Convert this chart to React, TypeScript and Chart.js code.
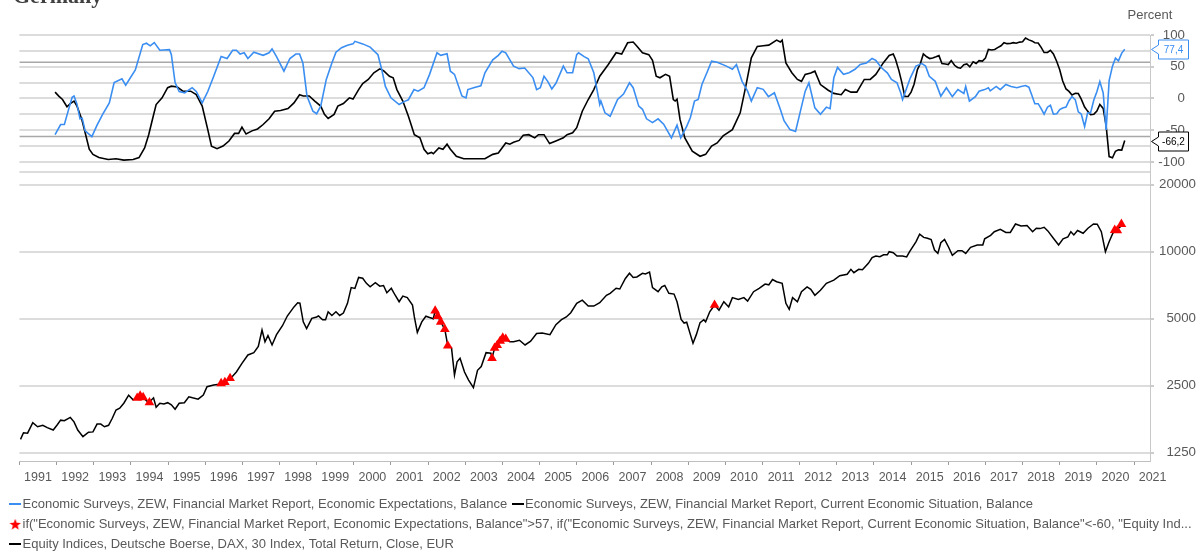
import React, { useEffect, useRef } from 'react';
import { Chart, registerables } from 'chart.js';

Chart.register(...registerables);
Chart.defaults.font.family = '"Liberation Sans", Arial, sans-serif';

// ---- Data (decimal year, value) ----
const zewExpectations: [number, number][] = [
  [1991.96,-57],[1992.11,-41],[1992.21,-41],[1992.34,-14],[1992.42,2],[1992.47,4],[1992.55,-9],[1992.63,-32],[1992.69,-31],[1992.77,-51],[1992.95,-60],
  [1993.09,-42],[1993.24,-25],[1993.42,-7],[1993.55,25],[1993.76,31],[1993.86,21],[1994.12,45],[1994.32,85],[1994.42,87],[1994.52,83],[1994.63,88],
  [1994.78,76],[1995.04,77],[1995.09,69],[1995.19,25],[1995.30,11],[1995.45,9],[1995.65,17],[1995.76,11],[1995.92,-7],[1996.07,11],[1996.23,35],
  [1996.43,66],[1996.59,63],[1996.74,76],[1996.84,76],[1996.94,70],[1997.05,72],[1997.15,63],[1997.31,73],[1997.56,68],[1997.72,72],[1997.80,78],
  [1997.92,66],[1998.12,43],[1998.28,63],[1998.44,70],[1998.54,70],[1998.63,56],[1998.74,4],[1998.90,-20],[1999.00,-24],[1999.11,-12],[1999.26,30],
  [1999.41,56],[1999.52,73],[1999.67,80],[1999.83,84],[1999.98,86],[2000.03,90],[2000.24,86],[2000.44,81],[2000.65,69],[2000.75,46],[2000.85,19],
  [2001.00,1],[2001.22,-9.5],[2001.37,-4.5],[2001.47,-2],[2001.62,14],[2001.73,11.5],[2001.89,17],[2002.04,38],[2002.24,72],[2002.34,68],[2002.51,70.5],
  [2002.60,43],[2002.71,38],[2002.91,4],[2003.02,1],[2003.07,14],[2003.27,17.6],[2003.42,20],[2003.53,40.5],[2003.74,61],[2003.89,68],[2003.99,74.5],
  [2004.09,72],[2004.30,51],[2004.45,47],[2004.60,48],[2004.82,33],[2004.92,14],[2005.02,17],[2005.12,35],[2005.22,27],[2005.33,15],[2005.44,24],
  [2005.64,51],[2005.74,40.5],[2005.89,40.5],[2006.00,69],[2006.05,72],[2006.20,66],[2006.31,62.5],[2006.46,40.5],[2006.62,-9.5],[2006.65,-4],
  [2006.76,-22.6],[2006.90,-28],[2007.10,-1.6],[2007.26,7],[2007.42,24.7],[2007.52,17],[2007.67,-12],[2007.77,-17],[2007.88,-32],[2008.04,-38],
  [2008.19,-32],[2008.34,-40.5],[2008.55,-62],[2008.70,-42],[2008.80,-62],[2008.96,-44],[2009.06,-30],[2009.17,-4],[2009.27,-1.6],[2009.37,22],
  [2009.52,43],[2009.63,58.8],[2009.78,57],[2010.03,51],[2010.19,46],[2010.30,53.5],[2010.45,27],[2010.60,11.5],[2010.70,-4],[2010.86,17],
  [2011.02,14.4],[2011.16,3],[2011.32,9],[2011.48,-17],[2011.58,-35],[2011.74,-49],[2011.89,-52],[2012.00,-25],[2012.15,11.5],[2012.25,24.7],
  [2012.41,-14.7],[2012.56,-25],[2012.72,-13.6],[2012.82,-16],[2012.92,32.6],[2013.02,49],[2013.18,38],[2013.33,40.5],[2013.49,46],[2013.63,53.5],
  [2013.80,56],[2013.95,63],[2014.05,60],[2014.21,48],[2014.36,40.5],[2014.47,30],[2014.62,24.7],[2014.72,9],[2014.77,-1.6],[2014.98,32.6],
  [2015.13,51],[2015.29,55],[2015.39,51],[2015.49,35],[2015.65,27],[2015.80,3.7],[2015.95,17],[2016.11,3],[2016.26,14],[2016.42,8],[2016.47,19],
  [2016.57,-4],[2016.73,3],[2016.83,11.5],[2016.98,14],[2017.08,17],[2017.13,12],[2017.29,19],[2017.40,14],[2017.55,22],[2017.69,19],[2017.85,17],
  [2017.96,19],[2018.08,20.4],[2018.17,17.8],[2018.25,5.1],[2018.33,-8.2],[2018.42,-8.2],[2018.50,-16.1],[2018.58,-24.7],[2018.67,-13.7],
  [2018.75,-10.6],[2018.83,-24.7],[2018.92,-24.1],[2019.00,-17.5],[2019.08,-15.0],[2019.17,-13.4],[2019.25,-3.6],[2019.33,3.1],[2019.42,-2.1],
  [2019.50,-21.1],[2019.58,-24.5],[2019.67,-44.1],[2019.75,-22.5],[2019.83,-22.8],[2019.92,-2.1],[2020.00,10.7],[2020.08,26.7],[2020.17,8.7],
  [2020.25,-49.5],[2020.33,28.2],[2020.42,51.0],[2020.50,63.4],[2020.58,59.3],[2020.67,71.5],[2020.75,77.4],
];

const zewCurrent: [number, number][] = [
  [1991.96,10],[1992.06,3.7],[1992.16,-1.6],[1992.28,-13],[1992.37,-8],[1992.47,-4],[1992.55,-12],[1992.68,-33],[1992.77,-54],[1992.88,-80],
  [1992.98,-88],[1993.14,-93],[1993.39,-96],[1993.60,-95],[1993.81,-97],[1994.06,-96],[1994.22,-93],[1994.37,-78],[1994.48,-57],[1994.58,-33],
  [1994.68,-9.5],[1994.84,1],[1994.99,17],[1995.09,19.4],[1995.25,18],[1995.40,11.5],[1995.61,11.5],[1995.76,6],[1995.92,-12],[1996.07,-49],
  [1996.17,-75],[1996.32,-79],[1996.48,-75],[1996.64,-67],[1996.79,-55],[1996.90,-55],[1996.99,-45],[1997.10,-56],[1997.26,-51],[1997.41,-48],
  [1997.56,-41],[1997.72,-32],[1997.87,-20],[1998.03,-19],[1998.23,-16],[1998.39,-7],[1998.54,6],[1998.64,4],[1998.80,4],[1998.95,-4],
  [1999.11,-12],[1999.21,-25],[1999.31,-31.5],[1999.47,-25],[1999.57,-12],[1999.72,-8],[1999.88,1],[1999.98,-1],[2000.13,14],[2000.24,23.6],
  [2000.39,30],[2000.54,40.5],[2000.70,46.7],[2000.80,44],[2000.96,35],[2001.06,32.6],[2001.16,14],[2001.32,-4],[2001.47,-28],[2001.63,-57],
  [2001.78,-62],[2001.89,-80],[2001.99,-87],[2002.09,-85],[2002.14,-87],[2002.29,-78],[2002.40,-80],[2002.51,-72],[2002.60,-80],[2002.76,-91],
  [2002.96,-95],[2003.27,-95],[2003.53,-95],[2003.74,-88],[2003.89,-86],[2004.09,-70],[2004.20,-72],[2004.30,-69],[2004.45,-66],[2004.56,-58],
  [2004.71,-57],[2004.87,-62],[2004.97,-57],[2005.12,-57],[2005.27,-71],[2005.44,-67],[2005.64,-62],[2005.74,-57],[2005.89,-54],[2006.00,-46],
  [2006.15,-20],[2006.31,-1.6],[2006.46,14],[2006.62,35],[2006.85,53.5],[2007.06,72],[2007.21,70],[2007.37,87.7],[2007.52,89],[2007.61,83],
  [2007.77,72],[2007.94,69],[2008.04,60],[2008.14,35],[2008.24,32.6],[2008.39,38],[2008.50,35],[2008.60,-1.6],[2008.65,-4],[2008.70,-1],
  [2008.78,-33],[2008.91,-62],[2009.11,-83],[2009.32,-91],[2009.47,-88],[2009.63,-75],[2009.78,-70],[2009.94,-59],[2010.19,-49],[2010.40,-22.6],
  [2010.55,19],[2010.70,64],[2010.86,82],[2011.02,83],[2011.17,84],[2011.38,92],[2011.48,89],[2011.53,92],[2011.63,56],[2011.79,40.5],
  [2011.94,30],[2012.05,27],[2012.15,38],[2012.30,40],[2012.41,43],[2012.56,22],[2012.77,13],[2012.92,8],[2013.12,6],[2013.23,14],[2013.38,10],
  [2013.54,10],[2013.74,30],[2013.90,30],[2014.05,38],[2014.25,56],[2014.41,67.7],[2014.52,70],[2014.58,61.8],[2014.67,44.3],[2014.75,25.4],
  [2014.83,3.2],[2014.92,3.3],[2015.00,10.0],[2015.08,22.4],[2015.17,45.5],[2015.25,55.1],[2015.33,70.2],[2015.42,65.7],[2015.50,62.9],
  [2015.58,63.9],[2015.67,65.7],[2015.75,67.5],[2015.83,55.2],[2015.92,54.4],[2016.00,53.5],[2016.08,59.7],[2016.17,52.3],[2016.25,48.9],
  [2016.33,47.7],[2016.42,53.1],[2016.50,54.5],[2016.58,49.8],[2016.67,57.6],[2016.75,55.1],[2016.83,59.5],[2016.92,58.8],[2017.00,63.5],
  [2017.08,77.3],[2017.17,76.4],[2017.25,77.3],[2017.33,80.1],[2017.42,83.0],[2017.50,88.0],[2017.58,86.4],[2017.67,86.7],[2017.75,87.9],
  [2017.83,87.0],[2017.92,88.8],[2018.00,89.3],[2018.08,95.2],[2018.17,92.3],[2018.25,90.7],[2018.33,87.9],[2018.42,87.4],[2018.50,80.6],
  [2018.58,72.4],[2018.67,72.6],[2018.75,76.0],[2018.83,70.1],[2018.92,58.2],[2019.00,45.3],[2019.08,27.6],[2019.17,15.0],[2019.25,11.1],
  [2019.33,5.5],[2019.42,8.2],[2019.50,7.8],[2019.58,-1.1],[2019.67,-13.5],[2019.75,-19.9],[2019.83,-25.3],[2019.92,-24.7],[2020.00,-19.9],
  [2020.08,-9.5],[2020.17,-15.7],[2020.25,-43.1],[2020.33,-91.5],[2020.42,-93.5],[2020.50,-83.1],[2020.58,-80.9],[2020.67,-81.3],[2020.75,-66.2],
];

const daxIndex: [number, number][] = [
  [1991.03,1435],[1991.11,1537],[1991.22,1530],[1991.36,1705],[1991.49,1635],[1991.63,1660],[1991.75,1620],[1991.91,1580],[1992.01,1660],
  [1992.11,1750],[1992.21,1740],[1992.37,1800],[1992.47,1720],[1992.57,1580],[1992.71,1475],[1992.86,1545],[1992.98,1550],[1993.09,1680],
  [1993.19,1680],[1993.29,1635],[1993.40,1660],[1993.50,1785],[1993.60,1945],[1993.70,1980],[1993.81,2085],[1993.94,2265],[1994.06,2160],
  [1994.20,2230],[1994.32,2215],[1994.48,2097],[1994.61,2205],[1994.68,2000],[1994.78,2085],[1994.89,2070],[1994.99,2097],[1995.09,2050],
  [1995.19,1960],[1995.30,2085],[1995.44,2097],[1995.56,2230],[1995.66,2205],[1995.81,2175],[1995.95,2270],[1996.05,2475],[1996.23,2520],
  [1996.38,2540],[1996.54,2600],[1996.69,2700],[1996.84,2880],[1996.99,3150],[1997.15,3435],[1997.31,3518],[1997.43,3750],[1997.53,4450],
  [1997.61,3940],[1997.69,4200],[1997.80,3810],[1997.92,4240],[1998.08,4650],[1998.21,5140],[1998.39,5650],[1998.49,5900],[1998.55,5870],
  [1998.64,4840],[1998.73,4510],[1998.87,5020],[1999.00,5090],[1999.05,5150],[1999.16,4950],[1999.24,4950],[1999.31,5370],[1999.41,5170],
  [1999.52,5370],[1999.62,5170],[1999.72,5300],[1999.83,5860],[1999.93,6900],[2000.03,6840],[2000.13,7660],[2000.24,7600],[2000.34,7210],
  [2000.44,6950],[2000.58,7256],[2000.70,7000],[2000.80,7050],[2000.89,6544],[2001.01,6850],[2001.11,6390],[2001.22,5960],[2001.32,6320],
  [2001.44,6220],[2001.58,5760],[2001.63,5090],[2001.71,4340],[2001.83,4840],[2001.94,5130],[2002.04,5060],[2002.14,5000],[2002.19,5430],
  [2002.26,5130],[2002.34,4840],[2002.45,4480],[2002.53,3780],[2002.63,3700],[2002.71,2790],[2002.78,3200],[2002.86,3320],[2002.98,2880],
  [2003.09,2650],[2003.22,2450],[2003.33,2930],[2003.43,3050],[2003.56,3518],[2003.69,3500],[2003.72,3320],[2003.79,3690],[2003.86,3800],
  [2003.94,3970],[2004.01,4100],[2004.09,4050],[2004.20,3940],[2004.30,3940],[2004.46,4000],[2004.61,3810],[2004.76,3960],[2004.92,4290],
  [2005.07,4310],[2005.28,4240],[2005.44,4700],[2005.59,4950],[2005.72,5090],[2005.84,5320],[2006.00,5860],[2006.15,6060],[2006.31,5700],
  [2006.46,5700],[2006.62,5900],[2006.80,6370],[2006.90,6500],[2007.06,6850],[2007.16,6800],[2007.31,7580],[2007.42,8000],[2007.52,7660],
  [2007.62,7700],[2007.77,8000],[2007.85,7950],[2007.96,8100],[2008.04,6900],[2008.19,6610],[2008.29,6950],[2008.37,7050],[2008.48,6500],
  [2008.62,6450],[2008.70,5960],[2008.81,4960],[2008.89,4780],[2008.96,4820],[2009.06,4240],[2009.13,3880],[2009.22,4240],[2009.32,4800],
  [2009.42,4950],[2009.47,4840],[2009.58,5370],[2009.71,5760],[2009.83,5460],[2009.96,5960],[2010.09,5650],[2010.19,6220],[2010.35,6100],
  [2010.50,6220],[2010.60,6000],[2010.76,6610],[2010.91,6850],[2011.07,7150],[2011.17,7100],[2011.27,7500],[2011.38,7330],[2011.53,7210],
  [2011.63,5860],[2011.72,5510],[2011.81,6220],[2011.94,5960],[2012.05,6610],[2012.20,6950],[2012.30,6770],[2012.41,6370],[2012.56,6710],
  [2012.72,7210],[2012.92,7450],[2013.08,7800],[2013.28,7920],[2013.38,8330],[2013.46,8050],[2013.59,8330],[2013.69,8300],[2013.85,8870],
  [2013.95,9400],[2014.05,9560],[2014.16,9500],[2014.26,9680],[2014.36,9680],[2014.41,10000],[2014.52,9900],[2014.62,9560],[2014.77,9560],
  [2014.88,9480],[2014.96,10000],[2015.13,11080],[2015.23,12000],[2015.34,11600],[2015.44,11500],[2015.54,11350],[2015.63,10170],
  [2015.72,9830],[2015.80,10975],[2015.90,11350],[2016.01,10470],[2016.11,9630],[2016.26,10100],[2016.37,10100],[2016.47,9830],
  [2016.60,10470],[2016.78,10720],[2016.93,10720],[2016.98,11430],[2017.14,11850],[2017.24,12300],[2017.40,12600],[2017.55,12200],
  [2017.67,12200],[2017.81,13320],[2017.96,13050],[2018.12,13100],[2018.27,12300],[2018.37,12750],[2018.47,12700],[2018.58,12870],
  [2018.68,12400],[2018.84,11430],[2018.97,10720],[2019.09,11430],[2019.22,11650],[2019.30,12300],[2019.38,11900],[2019.48,12450],
  [2019.63,12100],[2019.76,12750],[2019.91,13320],[2020.01,13300],[2020.12,12300],[2020.23,10000],[2020.33,11080],[2020.43,12100],
  [2020.53,12600],[2020.64,12950],
];

const signalPoints: [number, number][] = [
  [1994.17,2200],[1994.25,2250],[1994.33,2215],[1994.50,2100],
  [1996.43,2560],[1996.53,2590],[1996.67,2700],
  [2002.19,5430],[2002.26,5130],[2002.34,4840],[2002.45,4480],[2002.53,3780],
  [2003.72,3320],[2003.79,3690],[2003.86,3800],[2003.94,3970],[2004.01,4100],[2004.09,4050],
  [2009.71,5760],
  [2020.48,12500],[2020.55,12450],[2020.66,13300],
];

const yearTicks = [1991,1992,1993,1994,1995,1996,1997,1998,1999,2000,2001,2002,2003,2004,2005,2006,2007,2008,2009,2010,2011,2012,2013,2014,2015,2016,2017,2018,2019,2020,2021];
const percentTicks = [-115,-100,-75,-50,-25,0,25,50,75,100];
const percentLabels = [-100,-50,0,50,100];
const daxTicks = [1250,2500,5000,10000,20000];
const expThreshold = 57;
const curThreshold = -60;
const xMin = 1991;
const xMax = 2021.43;

const legendTexts = [
  'Economic Surveys, ZEW, Financial Market Report, Economic Expectations, Balance\u2009',
  'Economic Surveys, ZEW, Financial Market Report, Current Economic Situation, Balance',
  'if("Economic Surveys, ZEW, Financial Market Report, Economic Expectations, Balance">57, if("Economic Surveys, ZEW, Financial Market Report, Current Economic Situation, Balance"<-60, "Equity Ind...',
  'Equity Indices, Deutsche Boerse, DAX, 30 Index, Total Return, Close, EUR',
];

const BLUE = '#3a8ef2';
const TEXT = '#595959';
const GRID = '#dcdcdc';

function lineIcon(color: string) {
  const c = document.createElement('canvas');
  c.width = 12; c.height = 2;
  const g = c.getContext('2d')!;
  g.fillStyle = color; g.fillRect(0, 0, 12, 2);
  return c;
}
function starIcon(color: string) {
  const c = document.createElement('canvas');
  c.width = 12; c.height = 12;
  const g = c.getContext('2d')!;
  g.fillStyle = color;
  g.beginPath();
  for (let i = 0; i < 10; i++) {
    const r = i % 2 === 0 ? 6 : 2.5;
    const a = -Math.PI / 2 + (i * Math.PI) / 5;
    const px = 6 + r * Math.cos(a);
    const py = 6.8 + r * Math.sin(a);
    if (i === 0) g.moveTo(px, py); else g.lineTo(px, py);
  }
  g.closePath(); g.fill();
  return c;
}

const pts = (arr: [number, number][]) => arr.map(([x, y]) => ({ x, y }));

export default function App() {
  const ref = useRef<HTMLCanvasElement>(null);

  useEffect(() => {
    const prevMargin = document.body.style.margin;
    document.body.style.margin = '0';
    document.body.style.overflow = 'hidden';
    const icons = [lineIcon(BLUE), lineIcon('#000'), starIcon('#ff0000'), lineIcon('#000')];

    const annotations = {
      id: 'annotations',
      afterDraw(chart: any) {
        const { ctx } = chart;
        const yTop = chart.scales.yTop;
        ctx.save();
        ctx.font = 'bold 22px "Liberation Serif", serif';
        ctx.fillStyle = '#404040';
        ctx.textAlign = 'left';
        ctx.textBaseline = 'alphabetic';
        ctx.fillText('Germany', 13, 2.5);

        ctx.font = '13px "Liberation Sans", Arial, sans-serif';
        ctx.fillStyle = TEXT;
        ctx.textAlign = 'center';
        ctx.textBaseline = 'middle';
        ctx.fillText('Percent', chart.chartArea.right, 15);

        const callout = (val: number, color: string) => {
          const y = Math.round(yTop.getPixelForValue(val)) + 0.5;
          const x0 = chart.chartArea.right + 1.5;
          ctx.beginPath();
          ctx.moveTo(x0, y);
          ctx.lineTo(x0 + 7, y - 4.5);
          ctx.lineTo(x0 + 7, y - 9.5);
          ctx.lineTo(x0 + 37, y - 9.5);
          ctx.lineTo(x0 + 37, y + 9.5);
          ctx.lineTo(x0 + 7, y + 9.5);
          ctx.lineTo(x0 + 7, y + 4.5);
          ctx.closePath();
          ctx.fillStyle = '#ffffff';
          ctx.fill();
          ctx.strokeStyle = color;
          ctx.lineWidth = 1;
          ctx.stroke();
          ctx.font = '10px "Liberation Sans", Arial, sans-serif';
          ctx.fillStyle = color;
          ctx.textAlign = 'center';
          ctx.fillText(val.toFixed(1).replace('.', ','), x0 + 22, y + 0.5);
        };
        callout(zewExpectations[zewExpectations.length - 1][1], BLUE);
        callout(zewCurrent[zewCurrent.length - 1][1], '#000000');
        ctx.restore();
      },
    };

    const chart = new Chart(ref.current!, {
      type: 'line',
      data: {
        datasets: [
          { label: legendTexts[0], data: pts(zewExpectations), yAxisID: 'yTop', borderColor: BLUE, backgroundColor: BLUE, borderWidth: 1.6, pointRadius: 0, tension: 0 },
          { label: legendTexts[1], data: pts(zewCurrent), yAxisID: 'yTop', borderColor: '#000', backgroundColor: '#000', borderWidth: 1.6, pointRadius: 0, tension: 0 },
          { label: legendTexts[2], data: pts(signalPoints), yAxisID: 'yBottom', showLine: false, pointStyle: 'triangle', pointRadius: 5.6, backgroundColor: '#ff0000', borderColor: '#ff0000', borderWidth: 0 },
          { label: legendTexts[3], data: pts(daxIndex), yAxisID: 'yBottom', borderColor: '#000', backgroundColor: '#000', borderWidth: 1.5, pointRadius: 0, tension: 0 },
          { label: '', data: [{ x: xMin, y: expThreshold }, { x: xMax, y: expThreshold }], yAxisID: 'yTop', borderColor: '#a8a8a8', borderWidth: 1.5, pointRadius: 0 },
          { label: '', data: [{ x: xMin, y: curThreshold }, { x: xMax, y: curThreshold }], yAxisID: 'yTop', borderColor: '#a8a8a8', borderWidth: 1.5, pointRadius: 0 },
        ] as any,
      },
      options: {
        animation: false,
        responsive: false,
        events: [],
        layout: { padding: { left: 7.4, right: 5, top: 35, bottom: -9.5 } },
        plugins: {
          tooltip: { enabled: false },
          legend: {
            position: 'bottom',
            align: 'start',
            labels: {
              usePointStyle: true,
              pointStyleWidth: 1.6,
              boxHeight: 13,
              padding: 7,
              color: TEXT,
              font: { size: 13 },
              generateLabels: (ch: any) => {
                const base = (Chart.defaults.plugins.legend.labels as any).generateLabels(ch);
                return base
                  .filter((it: any) => it.datasetIndex < 4)
                  .map((it: any) => ({ ...it, pointStyle: icons[it.datasetIndex], fontColor: TEXT }));
              },
            },
          },
        },
        scales: {
          x: {
            type: 'linear',
            position: 'bottom',
            min: xMin,
            max: xMax,
            afterBuildTicks: (s: any) => { s.ticks = yearTicks.map((v) => ({ value: v })); },
            afterFit: (s: any) => { s.height = 29.5; },
            grid: { drawOnChartArea: false, drawTicks: true, tickLength: 4, color: '#9a9a9a', tickColor: '#9a9a9a' },
            border: { display: true, color: '#bfbfbf', width: 1 },
            ticks: { autoSkip: false, maxRotation: 0, minRotation: 0, labelOffset: 18.6, padding: 5.5, color: TEXT, font: { size: 12.5 }, callback: (v: any) => String(v) },
          },
          yTop: {
            type: 'linear',
            position: 'right',
            stack: 'panels',
            stackWeight: 136.5,
            min: -115,
            max: 100,
            afterBuildTicks: (s: any) => { s.ticks = percentTicks.map((v) => ({ value: v })); },
            afterFit: (s: any) => { s.width = 46; },
            grid: {
              color: GRID, lineWidth: 2, tickLength: 4, tickWidth: 1,
              tickColor: (c: any) => (c.tick && percentLabels.includes(c.tick.value) ? '#9a9a9a' : 'rgba(0,0,0,0)'),
            },
            border: { display: true, color: '#c8c8c8', width: 1 },
            ticks: {
              autoSkip: false,
              crossAlign: 'far', padding: 4.5, color: TEXT, font: { size: 13.3 },
              // trailing spaces keep these right-aligned labels narrower than the DAX panel's
              callback: (v: any) => (percentLabels.includes(Number(v)) ? String(v) + '   ' : ''),
            },
          },
          yBottom: {
            type: 'logarithmic',
            position: 'right',
            stack: 'panels',
            stackWeight: 289.5,
            min: 1147,
            max: 22930,
            afterBuildTicks: (s: any) => { s.ticks = daxTicks.map((v) => ({ value: v })); },
            afterFit: (s: any) => { s.width = 46; },
            grid: { color: GRID, lineWidth: 2, tickLength: 4, tickWidth: 1, tickColor: '#9a9a9a' },
            border: { display: true, color: '#c8c8c8', width: 1 },
            ticks: { autoSkip: false, crossAlign: 'far', padding: 4.5, color: TEXT, font: { size: 13.3 }, callback: (v: any) => String(v) },
          },
          yPad: {
            type: 'linear',
            position: 'left',
            display: true,
            grid: { display: false, drawTicks: false },
            border: { display: false },
            ticks: { display: false },
            afterFit: (s: any) => { s.width = 10.6; },
          },
        } as any,
      },
      plugins: [annotations],
    });

    return () => {
      chart.destroy();
      document.body.style.margin = prevMargin;
    };
  }, []);

  return (
    <div style={{ position: 'relative', width: 1201, height: 551, overflow: 'hidden', background: '#fff' }}>
      <canvas ref={ref} width={1201} height={551} style={{ display: 'block' }} />
    </div>
  );
}
